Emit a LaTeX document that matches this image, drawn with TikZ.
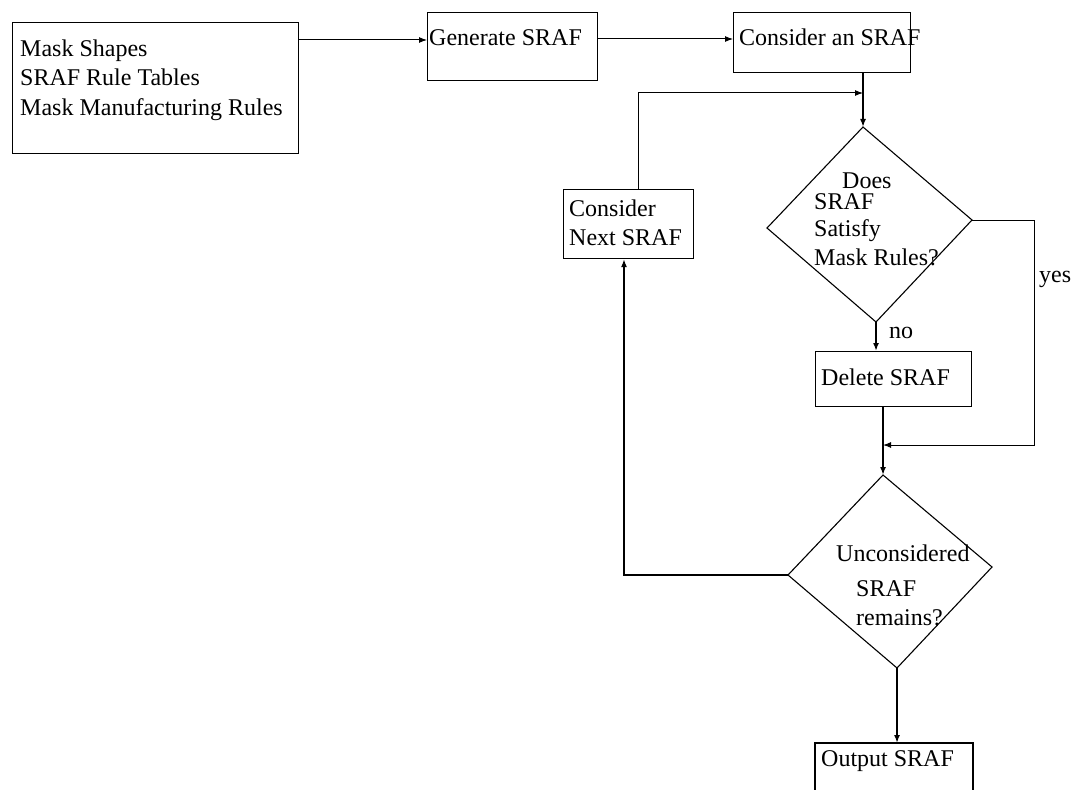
\documentclass[tikz,border=0pt]{standalone}
\usepackage{fontspec}
\setmainfont{Liberation Serif}
\usetikzlibrary{arrows.meta}
\begin{document}
\begin{tikzpicture}[x=1pt,y=-1pt,
  box/.style={draw, line width=1.1pt, rectangle, inner sep=0pt, anchor=north west},
  txt/.style={anchor=base west, inner sep=0pt, font=\fontsize{24}{28}\selectfont},
  thin/.style={line width=1pt},
  thick/.style={line width=1.8pt},
  arr/.style={-{Latex[length=8pt,width=6pt]}},
  dia/.style={draw, line width=1.1pt}]
\useasboundingbox (0,0) rectangle (1075,789);
% boxes
\node[box, minimum width=286pt, minimum height=131pt] (in) at (12,22) {};
\node[txt] (t1) at (20,57) {Mask Shapes};
\node[txt] (t2) at (20,86) {SRAF Rule Tables};
\node[txt] (t3) at (20,115) {Mask Manufacturing Rules};

\node[box, minimum width=170pt, minimum height=68pt] (gen) at (427,12) {};
\node[txt] (tgen) at (429,46) {Generate SRAF};

\node[box, minimum width=177pt, minimum height=60pt] (cons) at (733,12) {};
\node[txt] (tcons) at (739,46) {Consider an SRAF};

\node[box, minimum width=130pt, minimum height=69pt] (next) at (563,189) {};
\node[txt] (tnext1) at (569,216) {Consider};
\node[txt] (tnext2) at (569,245) {Next SRAF};

\node[box, minimum width=156pt, minimum height=55pt] (del) at (815,351) {};
\node[txt] (tdel) at (821,385) {Delete SRAF};

% diamonds
\coordinate (d1t) at (863,127);
\coordinate (d1l) at (767,228);
\coordinate (d1r) at (972,220);
\coordinate (d1b) at (876,322);
\draw[dia] (d1t) -- (d1r) -- (d1b) -- (d1l) -- cycle;
\node[txt] (q1a) at (842,188) {Does};
\node[txt] (q1b) at (814,209) {SRAF};
\node[txt] (q1c) at (814,236) {Satisfy};
\node[txt] (q1d) at (814,265) {Mask Rules?};

\coordinate (d2t) at (883,475);
\coordinate (d2l) at (788,575);
\coordinate (d2r) at (992,567);
\coordinate (d2b) at (897,668);
\draw[dia] (d2t) -- (d2r) -- (d2b) -- (d2l) -- cycle;
\node[txt] (q2a) at (836,561) {Unconsidered};
\node[txt] (q2b) at (856,596) {SRAF};
\node[txt] (q2c) at (856,625) {remains?};

% output box (cut off at bottom)
\begin{scope}
\clip (0,0) rectangle (1075,789);
\coordinate (outtl) at (815,743);
\coordinate (outtr) at (973,743);
\coordinate (outbl) at (815,800);
\coordinate (outbr) at (973,800);
\draw[line width=1.1pt] (outbl) -- (outtl) -- (outtr) -- (outbr);
\end{scope}
\node[txt] (tout) at (821,766) {Output SRAF};
\coordinate (outin) at (897,743);

% labels
\node[txt] (lno) at (889,338) {no};
\node[txt] (lyes) at (1039,282) {yes};

% connectors
\draw[thin,arr] (in.north east |- 0,40) -- (gen.west |- 0,40);
\draw[thin,arr] (gen.east |- 0,39) -- (cons.west |- 0,39);
\draw[thick,arr] (cons.south -| d1t) -- (d1t);
\coordinate (loopc) at (638,93);
\coordinate (loope) at (863,93);
\draw[thin,arr] (next.north -| loopc) -- (loopc) -- (loope);
\draw[thick,arr] (d1b) -- (del.north -| d1b);
\coordinate (yesc1) at (1034,220);
\coordinate (yesc2) at (1034,445);
\coordinate (yese) at (883,445);
\draw[thin,arr] (d1r) -- (yesc1) -- (yesc2) -- (yese);
\draw[thick,arr] (del.south -| d2t) -- (d2t);
\coordinate (noc) at (624,575);
\draw[thick,arr] (d2l) -- (noc) -- (next.south -| noc);
\draw[thick,arr] (d2b) -- (outin);
\end{tikzpicture}
\end{document}
